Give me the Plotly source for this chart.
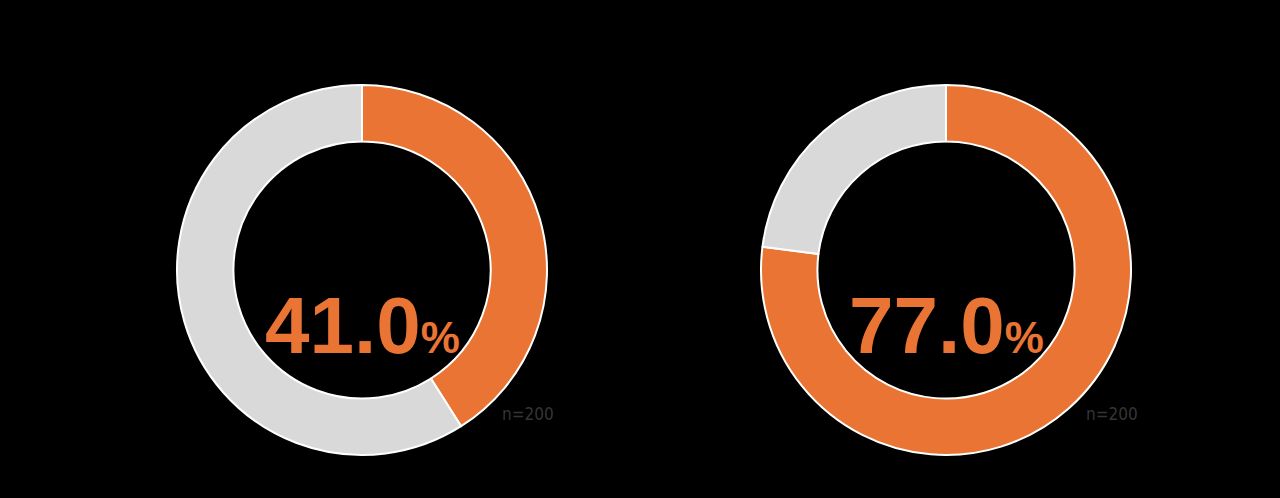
import plotly.graph_objects as go

labels = ["該当", "非該当"]
left_values = [41.0, 59.0]
right_values = [77.0, 23.0]
center_texts = ["41.0", "77.0"]
n_labels = ["n=200", "n=200"]

ORANGE = "#E97433"
GRAY = "#D9D9D9"

W, H = 1280, 498
fig = go.Figure()

centers = [362, 946]
R = 185
cy = 270
for vals, cx in zip([left_values, right_values], centers):
    fig.add_trace(go.Pie(
        labels=labels, values=vals, hole=0.695, sort=False,
        direction="clockwise", rotation=0,
        marker=dict(colors=[ORANGE, GRAY], line=dict(color="white", width=2)),
        textinfo="none", hoverinfo="label+percent", showlegend=False,
        domain=dict(x=[(cx - R) / W, (cx + R) / W], y=[(H - cy - R) / H, (H - cy + R) / H]),
    ))

for cx, t, n in zip(centers, center_texts, n_labels):
    fig.add_annotation(
        x=cx / W, y=(H - 325) / H, xref="paper", yref="paper",
        text=f"<b>{t}<span style='font-size:44px'>%</span></b>",
        showarrow=False, font=dict(family="Liberation Sans", size=80, color=ORANGE),
        xanchor="center", yanchor="middle",
    )
    fig.add_annotation(
        x=(cx + 166) / W, y=(H - 414) / H, xref="paper", yref="paper",
        text=n, showarrow=False,
        font=dict(family="DejaVu Sans Condensed", size=17, color="#353535"),
        xanchor="center", yanchor="middle",
    )

fig.update_layout(
    width=W, height=H, margin=dict(l=0, r=0, t=0, b=0),
    paper_bgcolor="black", plot_bgcolor="black",
)
fig.write_html(
    "out.html",
    config={"displayModeBar": False},
    post_script="document.body.style.margin='0';document.body.style.background='black';",
)
